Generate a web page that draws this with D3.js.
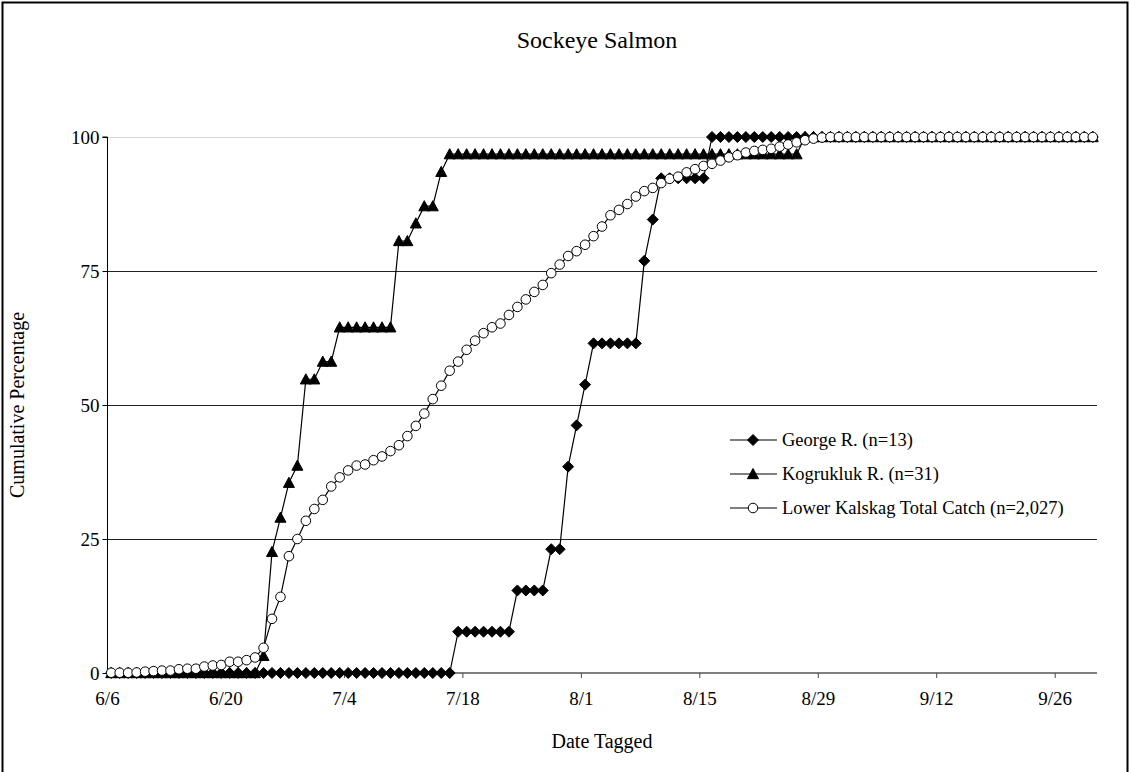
<!DOCTYPE html>
<html>
<head>
<meta charset="utf-8">
<script src="https://cdn.jsdelivr.net/npm/d3@7"></script>
<style>
  html, body { margin: 0; padding: 0; background: #fff; }
  svg { display: block; }
</style>
</head>
<body>
<svg id="chart" width="1130" height="772"></svg>
<script>
// ---------------- DATA ----------------
const chartTitle = "Sockeye Salmon";
const xTitle = "Date Tagged";
const yTitle = "Cumulative Percentage";

const dates = [
  "6/6","6/7","6/8","6/9","6/10","6/11","6/12","6/13","6/14","6/15","6/16","6/17","6/18","6/19","6/20",
  "6/21","6/22","6/23","6/24","6/25","6/26","6/27","6/28","6/29","6/30",
  "7/1","7/2","7/3","7/4","7/5","7/6","7/7","7/8","7/9","7/10","7/11","7/12","7/13","7/14","7/15","7/16",
  "7/17","7/18","7/19","7/20","7/21","7/22","7/23","7/24","7/25","7/26","7/27","7/28","7/29","7/30","7/31",
  "8/1","8/2","8/3","8/4","8/5","8/6","8/7","8/8","8/9","8/10","8/11","8/12","8/13","8/14","8/15","8/16",
  "8/17","8/18","8/19","8/20","8/21","8/22","8/23","8/24","8/25","8/26","8/27","8/28","8/29","8/30","8/31",
  "9/1","9/2","9/3","9/4","9/5","9/6","9/7","9/8","9/9","9/10","9/11","9/12","9/13","9/14","9/15","9/16",
  "9/17","9/18","9/19","9/20","9/21","9/22","9/23","9/24","9/25","9/26","9/27","9/28","9/29","9/30"
];

const georgeR = [
  0,0,0,0,0,0,0,0,0,0,0,0,0,0,0,0,0,0,0,0,0,0,0,0,0,
  0,0,0,0,0,0,0,0,0,0,0,0,0,0,0,0,
  7.7,7.7,7.7,7.7,7.7,7.7,7.7,15.4,15.4,15.4,15.4,23.1,23.1,38.5,46.2,
  53.8,61.5,61.5,61.5,61.5,61.5,61.5,76.9,84.6,92.3,92.3,92.3,92.3,92.3,92.3,100,
  100,100,100,100,100,100,100,100,100,100,100,100,100,100,100,
  100,100,100,100,100,100,100,100,100,100,100,100,100,100,100,100,
  100,100,100,100,100,100,100,100,100,100,100,100,100,100
];

const kogruklukR = [
  0,0,0,0,0,0,0,0,0,0,0,0,0,0,0,0,0,0,3.2,22.6,29.0,35.5,38.7,54.8,54.8,
  58.1,58.1,64.5,64.5,64.5,64.5,64.5,64.5,64.5,80.6,80.6,83.9,87.1,87.1,93.5,96.8,
  96.8,96.8,96.8,96.8,96.8,96.8,96.8,96.8,96.8,96.8,96.8,96.8,96.8,96.8,96.8,
  96.8,96.8,96.8,96.8,96.8,96.8,96.8,96.8,96.8,96.8,96.8,96.8,96.8,96.8,96.8,96.8,
  96.8,96.8,96.8,96.8,96.8,96.8,96.8,96.8,96.8,96.8,100,100,100,100,100,
  100,100,100,100,100,100,100,100,100,100,100,100,100,100,100,100,
  100,100,100,100,100,100,100,100,100,100,100,100,100,100
];

const lowerKalskag = [
  0.05,0.05,0.05,0.1,0.25,0.35,0.45,0.45,0.7,0.8,0.8,1.2,1.4,1.5,2.1,
  2.1,2.4,2.9,4.7,10.1,14.2,21.8,25.0,28.4,30.6,
  32.3,34.8,36.5,37.8,38.7,38.9,39.7,40.4,41.4,42.5,44.2,46.1,48.4,51.1,53.6,56.4,
  58.1,60.3,62.0,63.4,64.5,65.2,66.8,68.3,69.7,71.1,72.4,74.6,76.2,77.8,78.7,
  79.9,81.5,83.3,85.4,86.4,87.5,88.9,89.9,90.5,91.4,92.2,92.6,93.4,94.0,94.6,95.0,
  95.6,96.2,96.6,97.1,97.4,97.6,97.8,98.2,98.6,99.0,99.4,99.7,99.9,100,100,
  100,100,100,100,100,100,100,100,100,100,100,100,100,100,100,100,
  100,100,100,100,100,100,100,100,100,100,100,100,100,100
];

const seriesNames = ["George R. (n=13)", "Kogrukluk R. (n=31)", "Lower Kalskag Total Catch (n=2,027)"];
const xTickLabels = ["6/6","6/20","7/4","7/18","8/1","8/15","8/29","9/12","9/26"];
const yTicks = [0, 25, 50, 75, 100];
const axisStart = "6/6";
const axisEnd = "10/1";

// ---------------- LAYOUT ----------------
const FONT = '"Liberation Serif", "Times New Roman", serif';
const svg = d3.select("#chart");
const W = 1130, H = 772;
const plot = { left: 107, right: 1097, top: 137, bottom: 673 };

const parse = s => d3.timeParse("%m/%d/%Y")(s + "/2000");
const mid = s => d3.timeHour.offset(parse(s), 12);

const x = d3.scaleTime()
  .domain([parse(axisStart), parse(axisEnd)])
  .range([plot.left, plot.right]);
const y = d3.scaleLinear().domain([0, 100]).range([plot.bottom, plot.top]);

// outer frame
svg.append("rect")
  .attr("x", 2.5).attr("y", 2.5).attr("width", W - 5).attr("height", H + 10)
  .attr("fill", "none").attr("stroke", "#000").attr("stroke-width", 2);

// gridlines
svg.append("g").selectAll("line").data(yTicks.filter(v => v > 0))
  .join("line")
  .attr("x1", plot.left).attr("x2", plot.right)
  .attr("y1", d => Math.round(y(d)) + 0.5).attr("y2", d => Math.round(y(d)) + 0.5)
  .attr("stroke", d => d === 100 ? "#d8d8d8" : "#222")
  .attr("stroke-width", 1);

// Y axis
const yAxis = d3.axisLeft(y).tickValues(yTicks).tickSize(5).tickPadding(3).tickFormat(d3.format("d"));
const gy = svg.append("g").attr("transform", `translate(${plot.left + 0.5},0)`).call(yAxis);
gy.select(".domain").attr("stroke", "#000").attr("d", `M-5,${plot.top}H0V${plot.bottom}`);
gy.selectAll(".tick line").attr("stroke", "#000");
gy.selectAll(".tick text").style("font-family", FONT).style("font-size", "19px").attr("fill", "#000");

// X axis
const xAxis = d3.axisBottom(x).tickValues(xTickLabels.map(parse)).tickSize(5).tickPadding(14)
  .tickFormat((d, i) => xTickLabels[i]);
const gx = svg.append("g").attr("transform", `translate(0,${plot.bottom})`).call(xAxis);
gx.select(".domain").attr("stroke", "#808080").attr("stroke-width", 2).attr("d", `M${plot.left},0H${plot.right}`);
gx.selectAll(".tick line").attr("stroke", "#444");
gx.selectAll(".tick text").style("font-family", FONT).style("font-size", "19px").attr("fill", "#000");

// titles
svg.append("text").attr("x", 597).attr("y", 48).attr("text-anchor", "middle")
  .style("font-family", FONT).style("font-size", "24px").attr("fill", "#000").text(chartTitle);
svg.append("text").attr("x", 602).attr("y", 748).attr("text-anchor", "middle")
  .style("font-family", FONT).style("font-size", "20px").attr("fill", "#000").text(xTitle);
svg.append("text").attr("transform", `translate(24,${(plot.top + plot.bottom) / 2}) rotate(-90)`)
  .attr("text-anchor", "middle").style("font-family", FONT).style("font-size", "20px").attr("fill", "#000").text(yTitle);

// markers
const diamond = { draw(ctx, size) { const r = Math.sqrt(size) / 2; ctx.moveTo(0, -r); ctx.lineTo(r, 0); ctx.lineTo(0, r); ctx.lineTo(-r, 0); ctx.closePath(); } };
const triangle = { draw(ctx, size) { const r = Math.sqrt(size) / 2; ctx.moveTo(0, -r); ctx.lineTo(r, r * 0.85); ctx.lineTo(-r, r * 0.85); ctx.closePath(); } };

const series = [
  { name: seriesNames[0], values: georgeR, shape: d3.symbol().type(diamond).size(121)(), fill: "#000" },
  { name: seriesNames[1], values: kogruklukR, shape: d3.symbol().type(triangle).size(121)(), fill: "#000" },
  { name: seriesNames[2], values: lowerKalskag, shape: d3.symbol().type(d3.symbolCircle).size(72)(), fill: "#fff" }
];

const line = d3.line().x(d => x(mid(d.date))).y(d => y(d.value));

series.forEach(s => {
  const pts = dates.map((dt, i) => ({ date: dt, value: s.values[i] }));
  const g = svg.append("g");
  g.append("path").datum(pts).attr("d", line).attr("fill", "none").attr("stroke", "#000").attr("stroke-width", 1.2);
  g.selectAll("path.m").data(pts).join("path").attr("class", "m")
    .attr("transform", d => `translate(${x(mid(d.date))},${y(d.value)})`)
    .attr("d", s.shape).attr("fill", s.fill).attr("stroke", "#000").attr("stroke-width", 1);
});

// legend
const legend = svg.append("g").attr("transform", "translate(730,440)");
series.forEach((s, i) => {
  const g = legend.append("g").attr("transform", `translate(0,${i * 34})`);
  g.append("line").attr("x1", 0).attr("x2", 47).attr("y1", 0).attr("y2", 0).attr("stroke", "#000").attr("stroke-width", 1.2);
  g.append("path").attr("transform", "translate(23,0)").attr("d", s.shape).attr("fill", s.fill).attr("stroke", "#000");
  g.append("text").attr("x", 52).attr("y", 6).style("font-family", FONT).style("font-size", "18.5px").attr("fill", "#000").text(s.name);
});
</script>
</body>
</html>
